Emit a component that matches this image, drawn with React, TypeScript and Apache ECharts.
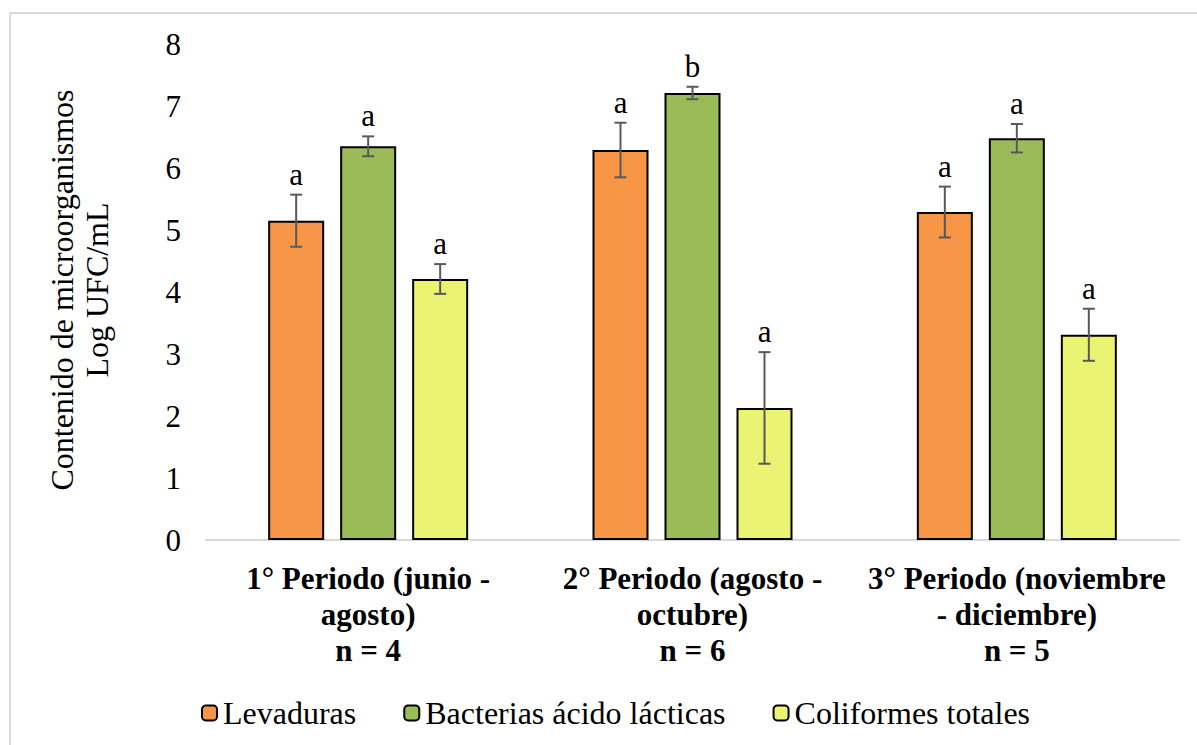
import React, { useEffect, useRef } from "react";
import * as echarts from "echarts";

const categories = [
  "1° Periodo (junio -\nagosto)\nn = 4",
  "2° Periodo (agosto -\noctubre)\nn = 6",
  "3° Periodo (noviembre\n- diciembre)\nn = 5",
];
const seriesNames = ["Levaduras", "Bacterias ácido lácticas", "Coliformes totales"];
const levaduras = [5.15, 6.29, 5.29];
const bacterias = [6.35, 7.21, 6.48];
const coliformes = [4.21, 2.13, 3.31];
const levadurasErr = [0.42, 0.44, 0.41];
const bacteriasErr = [0.16, 0.1, 0.23];
const coliformesErr = [0.24, 0.9, 0.42];
const levadurasLetters = ["a", "a", "a"];
const bacteriasLetters = ["a", "b", "a"];
const coliformesLetters = ["a", "a", "a"];
const yTicks = [0, 1, 2, 3, 4, 5, 6, 7, 8];

const colors = ["#F79646", "#9BBB59", "#EBF472"];
const FONT = "Liberation Serif, Times New Roman, serif";

export default function App() {
  const ref = useRef<HTMLDivElement>(null);
  useEffect(() => {
    if (!ref.current) return;
    const chart = echarts.init(ref.current, undefined, { renderer: "svg" });
    const values = [levaduras, bacterias, coliformes];
    const errs = [levadurasErr, bacteriasErr, coliformesErr];
    const letters = [levadurasLetters, bacteriasLetters, coliformesLetters];
    const barW = 56;
    const gap = 16;
    const offsets = [-(barW + gap), 0, barW + gap];

    const barSeries = seriesNames.map((name, s) => ({
      name,
      type: "bar",
      data: values[s],
      barWidth: barW,
      barGap: (gap / barW) * 100 + "%",
      itemStyle: { color: colors[s], borderColor: "#000", borderWidth: 2 },
      z: 2,
    }));

    const errSeries = seriesNames.map((name, s) => ({
      type: "custom",
      name: name + "_err",
      z: 5,
      data: values[s].map((v, i) => [i, v, errs[s][i]]),
      renderItem: (params: any, api: any) => {
        const idx = api.value(0);
        const v = api.value(1);
        const e = api.value(2);
        const letter = letters[s][params.dataIndex];
        const top = api.coord([idx, v + e]);
        const bot = api.coord([idx, v - e]);
        const x = top[0] + offsets[s];
        const cap = 6;
        const lineStyle = { stroke: "#595959", lineWidth: 2 };
        return {
          type: "group",
          children: [
            { type: "line", shape: { x1: x, y1: top[1], x2: x, y2: bot[1] }, style: lineStyle },
            { type: "line", shape: { x1: x - cap, y1: top[1], x2: x + cap, y2: top[1] }, style: lineStyle },
            { type: "line", shape: { x1: x - cap, y1: bot[1], x2: x + cap, y2: bot[1] }, style: lineStyle },
            {
              type: "text",
              x: x,
              y: top[1] - 5,
              style: {
                text: letter,
                fill: "#000",
                font: `31px ${FONT}`,
                align: "center",
                verticalAlign: "bottom",
              },
            },
          ],
        };
      },
      encode: { x: 0, y: 1 },
      silent: true,
    }));

    chart.setOption({
      animation: false,
      backgroundColor: "#fff",
      grid: { left: 206, right: 18, top: 44, bottom: 205 },
      legend: {
        data: seriesNames,
        left: 196,
        top: 692,
        itemWidth: 15,
        itemHeight: 15,
        itemGap: 47,
        textStyle: { fontFamily: FONT, fontSize: 32, color: "#000", padding: [0, 0, 0, 1] },
      },
      xAxis: {
        type: "category",
        data: categories,
        axisLine: { lineStyle: { color: "#d9d9d9", width: 2 } },
        axisTick: { show: false },
        axisLabel: {
          interval: 0,
          fontFamily: FONT,
          fontSize: 31,
          fontWeight: "bold",
          color: "#000",
          lineHeight: 36,
          margin: 20,
          align: "center",
        },
      },
      yAxis: {
        type: "value",
        min: yTicks[0],
        max: yTicks[yTicks.length - 1],
        interval: 1,
        splitLine: { show: false },
        axisLine: { show: false },
        axisTick: { show: false },
        axisLabel: { fontFamily: FONT, fontSize: 31, color: "#000", margin: 25 },
      },
      graphic: [
        {
          type: "rect",
          shape: { x: 10, y: 13, width: 1400, height: 900 },
          style: { fill: "none", stroke: "#d9d9d9", lineWidth: 2 },
          silent: true,
        },
        {
          type: "text",
          x: 62,
          y: 290,
          rotation: Math.PI / 2,
          style: {
            text: "Contenido de microorganismos",
            font: `32px ${FONT}`,
            fill: "#000",
            align: "center",
            verticalAlign: "middle",
          },
        },
        {
          type: "text",
          x: 97,
          y: 290,
          rotation: Math.PI / 2,
          style: {
            text: "Log UFC/mL",
            font: `32px ${FONT}`,
            fill: "#000",
            align: "center",
            verticalAlign: "middle",
          },
        },
      ],
      series: [...barSeries, ...errSeries],
    });
    return () => chart.dispose();
  }, []);
  return (
    <div
      ref={ref}
      style={{ position: "fixed", left: 0, top: 0, width: 1197, height: 745 }}
    />
  );
}
